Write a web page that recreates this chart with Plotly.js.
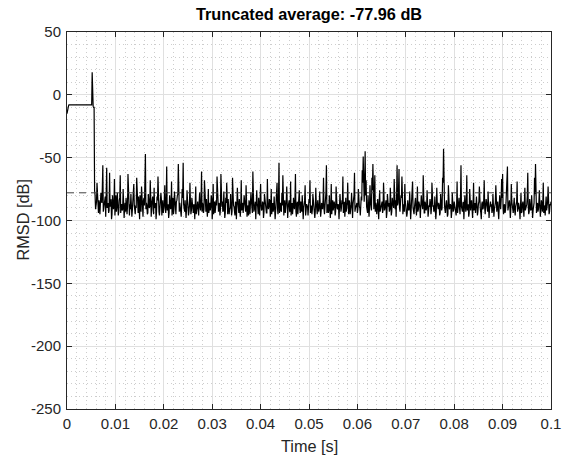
<!DOCTYPE html>
<html>
<head>
<meta charset="utf-8">
<script src="https://cdn.plot.ly/plotly-3.0.1.min.js"></script>
<style>html,body{margin:0;padding:0;background:#fff;}#chart{width:562px;height:459px;}</style>
</head>
<body>
<div id="chart"></div>
<script>
// ---- data ----
var titleText = "Truncated average: -77.96 dB";
var xLabel = "Time [s]";
var yLabel = "RMSD [dB]";
var avgLevel = -77.96;
var timeStart = 0;
var timeStep = 0.0001;
var timeEnd = 0.1;
var xTickVals = [0, 0.01, 0.02, 0.03, 0.04, 0.05, 0.06, 0.07, 0.08, 0.09, 0.1];
var xTickText = ["0", "0.01", "0.02", "0.03", "0.04", "0.05", "0.06", "0.07", "0.08", "0.09", "0.1"];
var yTickVals = [-250, -200, -150, -100, -50, 0, 50];
var yTickText = ["-250", "-200", "-150", "-100", "-50", "0", "50"];

// onset (samples 0..56)
var onsetRMSD = [
 -15, -12, -10, -9,
 -8, -8, -8, -8, -8, -8, -8, -8, -8, -8, -8, -8,
 -8, -8, -8, -8, -8, -8, -8, -8, -8, -8, -8, -8,
 -8, -8, -8, -8, -8, -8, -8, -8, -8, -8, -8, -8,
 -8, -8, -8, -8, -8, -8, -8, -8, -8, -8, -8, -8,
 18, -9, -9, -10, -10
];
// converged noise (samples 57..1000)
var noiseRMSD = [
 -76,-80, -91,-88, -85,-70, -79,-92, -94,-84, -87,-95, -90,-78, -82,-86, -74,-56, -93,-90, -88,-83, -81,-97,
 -84,-58, -90,-88, -86,-94, -92,-62, -89,-85, -83,-99, -95,-80, -85,-91, -88,-67, -96,-87, -80,-93, -89,-78, -86,-96, -93,-84, -82,-64, -94,-89, -87,-92, -91,-75, -84,-98, -90,-86,
 -93,-82, -87,-95, -89,-63, -84,-90, -96,-87, -91,-79, -86,-97, -92,-85, -83,-71, -88,-94, -95,-88, -90,-66, -85,-92, -94,-81, -89,-99, -80,-86, -93,-73, -86,-91, -97,-84, -82,-88,
 -75,-47, -91,-86, -88,-95, -94,-79, -85,-90, -89,-68, -92,-97, -87,-83, -81,-92, -95,-74, -90,-88, -86,-99, -93,-81, -84,-65, -88,-93, -96,-87, -91,-78, -83,-96, -89,-84, -94,-90,
 -86,-72, -90,-94, -83,-57, -92,-89, -87,-98, -94,-80, -85,-91, -89,-69, -96,-86, -82,-95, -91,-77, -88,-92, -95,-85, -84,-80, -79,-55, -90,-93, -86,-88, -93,-97, -89,-75, -82,-54,
 -87,-90, -93,-84, -89,-98, -91,-76, -84,-88, -96,-93, -88,-70, -85,-95, -92,-82, -86,-91, -94,-87, -90,-99, -83,-73, -95,-89, -88,-85, -91,-96, -86,-78, -89,-92, -84,-61, -93,-86,
 -88,-94, -91,-68, -85,-90, -93,-83, -87,-97, -90,-75, -94,-88, -86,-92, -89,-80, -83,-99, -92,-71, -95,-87, -85,-94, -90,-84, -88,-65, -84,-91, -93,-86, -87,-96, -91,-63, -86,-89,
 -85,-93, -92,-77, -88,-98, -94,-82, -86,-70, -89,-95, -83,-87, -95,-91, -90,-79, -87,-96, -93,-66, -84,-88, -89,-92, -96,-85, -86,-99, -91,-74, -85,-90, -94,-83, -88,-97, -90,-68,
 -92,-86, -87,-94, -90,-80, -85,-91, -93,-72, -88,-97, -91,-88, -96,-84, -86,-95, -89,-78, -84,-90, -94,-61, -88,-93, -91,-87, -85,-99, -92,-76, -87,-89, -95,-82, -89,-96, -83,-71,
 -88,-92, -91,-85, -86,-98, -93,-79, -85,-88, -90,-94, -94,-67, -87,-91, -89,-83, -84,-97, -92,-75, -95,-89, -86,-93, -90,-81, -88,-99, -93,-86, -85,-70, -91,-95, -82,-54, -94,-88,
 -86,-92, -93,-78, -88,-64, -90,-96, -87,-84, -94,-90, -85,-73, -91,-98, -89,-87, -84,-93, -92,-69, -96,-89, -86,-95, -90,-82, -88,-91, -83,-63, -93,-97, -87,-85, -95,-88, -89,-76,
 -91,-94, -85,-90, -93,-80, -88,-99, -90,-86, -84,-72, -96,-92, -87,-88, -89,-96, -92,-83, -86,-68, -94,-91, -88,-95, -91,-79, -85,-87, -90,-98, -93,-74, -86,-90, -95,-84, -88,-93,
 -90,-77, -86,-97, -93,-86, -88,-91, -85,-66, -91,-95, -89,-82, -78,-56, -94,-89, -87,-94, -92,-80, -86,-98, -90,-71, -95,-88, -84,-92, -89,-85, -88,-96, -93,-73, -86,-90, -91,-87,
 -88,-99, -92,-79, -86,-93, -90,-84, -87,-65, -94,-91, -85,-97, -91,-82, -93,-88, -86,-70, -89,-95, -84,-86, -95,-92, -88,-78, -90,-98, -87,-83, -80,-62, -93,-90, -89,-87, -86,-94,
 -91,-75, -86,-89, -90,-96, -88,-81, -84,-60, -70,-49, -82,-85, -72,-45, -80,-68, -89,-93, -94,-80, -87,-97, -90,-72, -85,-88, -92,-66, -76,-55, -88,-91, -83,-64, -93,-86, -89,-95,
 -88,-83, -91,-99, -86,-76, -93,-90, -89,-87, -85,-94, -92,-70, -87,-92, -90,-85, -84,-98, -94,-79, -88,-89, -86,-93, -91,-74, -89,-96, -93,-82, -85,-88, -90,-67, -87,-91, -84,-97,
 -80,-56, -88,-86, -75,-59, -90,-93, -86,-80, -82,-65, -91,-95, -87,-88, -93,-71, -85,-90, -89,-97, -94,-84, -88,-92, -91,-77, -86,-99, -92,-86, -84,-69, -90,-94, -95,-89, -87,-82,
 -90,-96, -88,-73, -93,-91, -85,-87, -89,-98, -92,-80, -86,-90, -91,-64, -87,-94, -94,-85, -88,-92, -90,-76, -85,-97, -93,-88, -89,-83, -86,-95, -91,-70, -84,-89, -88,-93, -92,-81,
 -89,-99, -93,-74, -86,-90, -91,-86, -88,-96, -94,-79, -85,-92, -90,-66, -70,-43, -84,-88, -92,-94, -87,-84, -89,-97, -95,-72, -86,-91, -90,-87, -88,-98, -93,-78, -85,-93, -91,-85,
 -87,-90, -92,-96, -88,-69, -94,-88, -86,-82, -90,-95, -84,-56, -89,-91, -93,-86, -85,-99, -91,-80, -88,-93, -86,-64, -92,-89, -87,-97, -94,-75, -89,-92, -85,-84, -91,-98, -88,-70,
 -92,-88, -86,-94, -90,-81, -88,-96, -93,-87, -85,-73, -89,-91, -94,-99, -87,-85, -91,-90, -84,-68, -90,-95, -88,-83, -86,-92, -93,-77, -89,-98, -91,-86, -85,-89, -87,-94, -92,-79,
 -88,-97, -91,-88, -86,-72, -90,-93, -87,-85, -93,-99, -89,-80, -85,-91, -84,-67, -82,-63, -90,-95, -88,-87, -94,-92, -86,-76, -80,-57, -92,-90, -87,-84, -89,-98, -91,-71, -85,-89,
 -90,-94, -87,-82, -92,-96, -89,-86, -85,-69, -93,-91, -86,-88, -91,-99, -88,-78, -94,-93, -87,-85, -90,-97, -85,-74, -92,-90, -88,-87, -81,-62, -89,-95, -93,-83, -86,-92, -91,-80,
 -88,-98, -92,-89, -86,-66, -79,-55, -90,-94, -87,-86, -93,-91, -85,-76, -89,-97, -91,-84, -86,-93, -88,-70, -94,-88, -90,-96, -87,-81, -92,-90, -85,-73, -89,-95, -93,-87, -88,-85
];

var rmsd = onsetRMSD.concat(noiseRMSD);

var fontFam = "Liberation Sans, Arial, Helvetica, sans-serif";
var axisColor = "#262626";

var traces = [
  {
    type: "scatter", mode: "lines",
    x0: timeStart, dx: timeStep, y: rmsd,
    line: {color: "#000000", width: 1.2},
    hoverinfo: "skip", showlegend: false
  },
  {
    type: "scatter", mode: "lines",
    x: [timeStart, timeEnd], y: [avgLevel, avgLevel],
    line: {color: "#404040", width: 1, dash: "7px,5px"},
    hoverinfo: "skip", showlegend: false
  }
];

var layout = {
  width: 562, height: 459,
  paper_bgcolor: "#ffffff", plot_bgcolor: "#ffffff",
  margin: {l: 67, r: 11, t: 32, b: 50, pad: 0},
  font: {family: fontFam, size: 15, color: axisColor},
  title: {
    text: "<b>" + titleText + "</b>",
    font: {family: fontFam, size: 16.3, color: "#000000"},
    x: 0.5, xref: "paper", xanchor: "center",
    y: 1 - 14/459, yref: "container", yanchor: "middle"
  },
  xaxis: {
    range: [timeStart, timeEnd],
    tickvals: xTickVals, ticktext: xTickText,
    ticks: "inside", ticklen: 5, tickcolor: axisColor, tickwidth: 1,
    showline: true, linecolor: axisColor, linewidth: 1, mirror: "ticks",
    showgrid: true, gridcolor: "#e0e0e0", gridwidth: 1,
    zeroline: false,
    minor: {dtick: 0.002, showgrid: true, gridcolor: "#cdcdcd", griddash: "1px,3px", gridwidth: 1, ticks: ""},
    tickfont: {family: fontFam, size: 15, color: axisColor},
    ticklabelstandoff: 1,
    automargin: false, fixedrange: true
  },
  yaxis: {
    range: [-250, 50],
    tickvals: yTickVals, ticktext: yTickText,
    ticks: "inside", ticklen: 5, tickcolor: axisColor, tickwidth: 1,
    showline: true, linecolor: axisColor, linewidth: 1, mirror: "ticks",
    showgrid: true, gridcolor: "#e0e0e0", gridwidth: 1,
    zeroline: false,
    minor: {dtick: 10, showgrid: true, gridcolor: "#cdcdcd", griddash: "1px,3px", gridwidth: 1, ticks: ""},
    tickfont: {family: fontFam, size: 15, color: axisColor},
    ticklabelstandoff: 2,
    automargin: false, fixedrange: true
  },
  annotations: [
    {text: xLabel, xref: "paper", yref: "paper", x: 0.5, y: 0, xanchor: "center", yanchor: "middle",
     yshift: -37, showarrow: false, font: {family: fontFam, size: 16.3, color: axisColor}},
    {text: yLabel, xref: "paper", yref: "paper", x: 0, y: 0.5, xanchor: "center", yanchor: "middle",
     xshift: -45, textangle: -90, showarrow: false, font: {family: fontFam, size: 16.3, color: axisColor}}
  ]
};

Plotly.newPlot("chart", traces, layout, {staticPlot: true, displayModeBar: false});
</script>
</body>
</html>
